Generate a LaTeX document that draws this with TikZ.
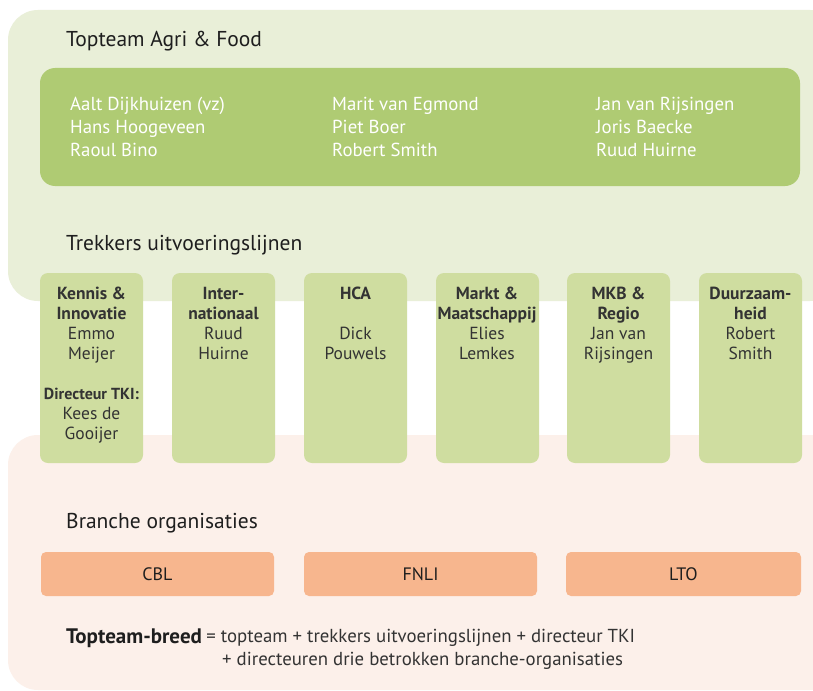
\documentclass[tikz,border=0pt]{standalone}
\usepackage{fontspec}
\setmainfont{PT Sans}
\definecolor{bgtop}{HTML}{E9EFD8}
\definecolor{bgbot}{HTML}{FCF0EA}
\definecolor{teamg}{HTML}{AFCB73}
\definecolor{colg}{HTML}{CFDDA0}
\definecolor{orng}{HTML}{F7B68E}
\definecolor{ink}{HTML}{1E1E1E}
\definecolor{ink2}{HTML}{333333}
\tikzset{
  head/.style={anchor=west, inner sep=0pt, text=ink, font=\fontsize{21.5}{24}\selectfont},
  member/.style={anchor=north west, inner sep=0pt, text=white, font=\fontsize{18.8}{23}\selectfont, align=left},
  colbox/.style={fill=colg, rounded corners=8pt, draw=none},
  coltext/.style={anchor=north, inner sep=0pt, text=ink2, font=\fontsize{17.5}{20}\selectfont, align=center},
  orgbox/.style={fill=orng, rounded corners=5pt, draw=none, minimum height=44pt, text=ink, font=\fontsize{18}{20}\selectfont},
}
\begin{document}
\begin{tikzpicture}[x=1pt,y=-1pt]
\useasboundingbox (0,0) rectangle (813,690);
\fill[white] (0,0) rectangle (813,690);
% backgrounds
\fill[bgtop, rounded corners=30pt] (8,10) rectangle (840,301);
\fill[bgbot, rounded corners=30pt] (8,435) rectangle (840,690);
\fill[bgbot] (600,600) rectangle (813,690);
% top team
\node[head] (tt) at (66,41) {Topteam Agri \& Food};
\fill[teamg, rounded corners=15pt] (40,68) rectangle (800,186);
\node[member] (m1) at (70,97) {Aalt Dijkhuizen (vz)\\Hans Hoogeveen\\Raoul Bino};
\node[member] (m2) at (332,97) {Marit van Egmond\\Piet Boer\\Robert Smith};
\node[member] (m3) at (596,97) {Jan van Rijsingen\\Joris Baecke\\Ruud Huirne};
\node[head] (tr) at (66,245) {Trekkers uitvoeringslijnen};
% columns
\foreach \x in {40,172,304,436,567,699}{
  \fill[colbox] (\x,273) rectangle ++(103,190);
}
\node[coltext] (c1) at (91.5,287) {\textbf{Kennis \&}\\\textbf{Innovatie}\\Emmo\\Meijer};
\node[coltext, font=\fontsize{17.5}{20}\selectfont] (c1b) at (91.5,388) {{\fontsize{16}{20}\selectfont\textbf{Directeur TKI:}}\\Kees de\\Gooijer};
\node[coltext] (c2) at (223.5,287) {\textbf{Inter-}\\\textbf{nationaal}\\Ruud\\Huirne};
\node[coltext] (c3) at (355.5,287) {\textbf{HCA}\\[20pt]Dick\\Pouwels};
\node[coltext] (c4) at (487,287) {\textbf{Markt \&}\\\textbf{Maatschappij}\\Elies\\Lemkes};
\node[coltext] (c5) at (618.5,287) {\textbf{MKB \&}\\\textbf{Regio}\\Jan van\\Rijsingen};
\node[coltext] (c6) at (750.5,287) {\textbf{Duurzaam-}\\\textbf{heid}\\Robert\\Smith};
% branche
\node[head] (br) at (66,523) {Branche organisaties};
\node[orgbox, minimum width=233pt] (cbl) at (157.5,574) {CBL};
\node[orgbox, minimum width=233pt] (fnli) at (420.5,574) {FNLI};
\node[orgbox, minimum width=235pt] (lto) at (683.5,574) {LTO};
% footer
\node[anchor=west, inner sep=0pt, text=ink, font=\fontsize{21}{24}\selectfont] (tb) at (66,638) {\textbf{Topteam-breed}};
\node[anchor=west, text=ink2, font=\fontsize{18.8}{20}\selectfont, inner sep=0pt] (tb2) at ([xshift=4pt]tb.east) {= topteam + trekkers uitvoeringslijnen + directeur TKI};
\node[anchor=west, text=ink2, font=\fontsize{18.8}{20}\selectfont, inner sep=0pt] (tb3) at (222,661) {+ directeuren drie betrokken branche-organisaties};
\end{tikzpicture}
\end{document}
